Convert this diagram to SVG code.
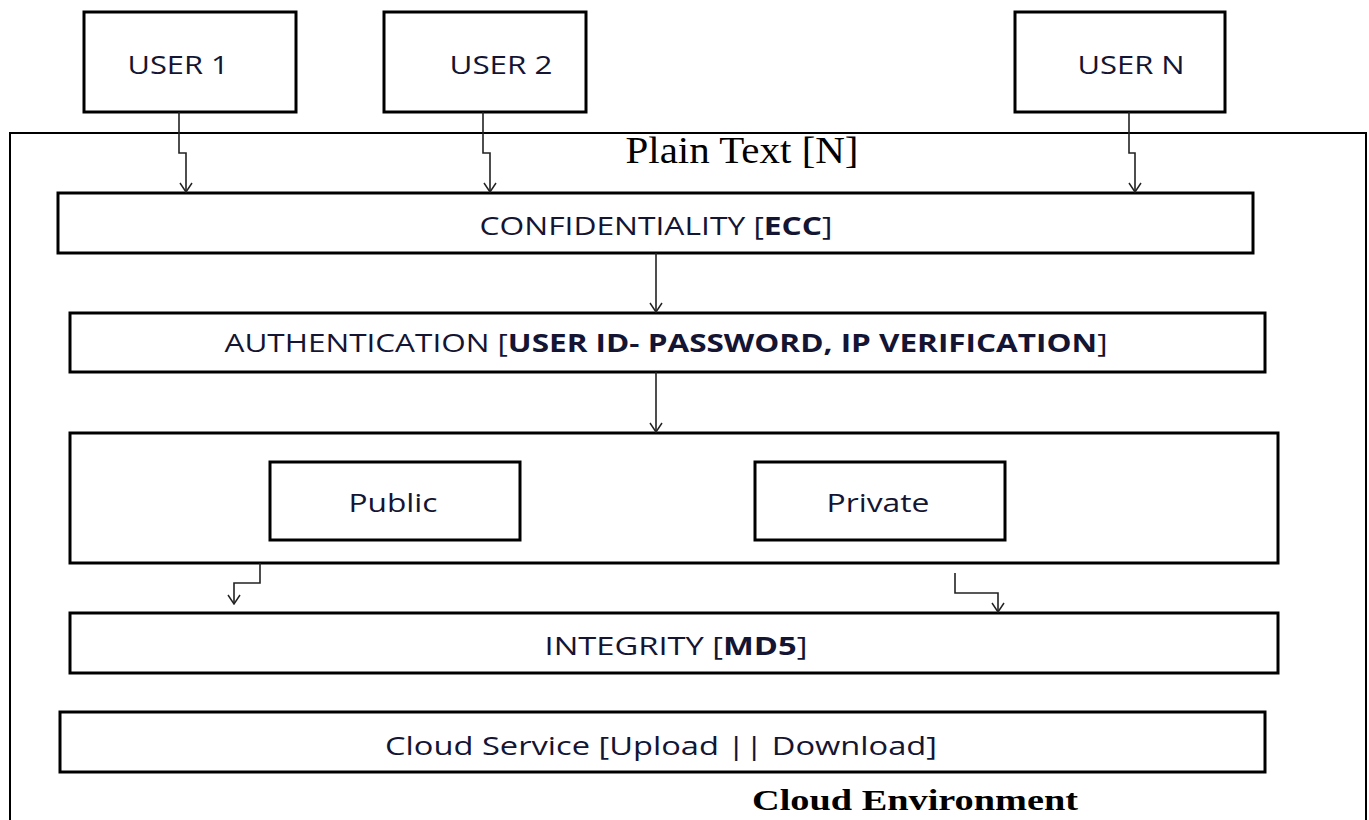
<svg xmlns="http://www.w3.org/2000/svg" width="1369" height="820" viewBox="0 0 1369 820">
  <defs>
    <marker id="head" viewBox="0 0 12 14" refX="11" refY="7" markerWidth="12" markerHeight="14" markerUnits="userSpaceOnUse" orient="auto">
      <path d="M2,1 L11,7 L2,13" fill="none" stroke="#222" stroke-width="1.5"/>
    </marker>
    <style>
      .box { fill: #fff; stroke: #000; stroke-width: 3; }
      .frame { fill: none; stroke: #000; stroke-width: 2; }
      .lbl { font-family: "Open Sans", "Liberation Sans", sans-serif; font-size: 25px; fill: #141433; text-anchor: middle; dominant-baseline: central; }
      .b { font-weight: bold; }
      .serif { font-family: "Liberation Serif", serif; fill: #000; text-anchor: middle; }
      .conn { fill: none; stroke: #222; stroke-width: 1.6; marker-end: url(#head); }
    </style>
  </defs>

  <rect width="1369" height="820" fill="#fff"/>

  <!-- cloud environment frame -->
  <g id="cloud-environment">
    <rect class="frame" x="10" y="133" width="1356" height="700"/>
    <text class="serif" x="742" y="163" font-size="37" textLength="233" lengthAdjust="spacingAndGlyphs">Plain Text [N]</text>
    <text class="serif" x="915" y="810" font-size="30" font-weight="bold" textLength="326" lengthAdjust="spacingAndGlyphs">Cloud Environment</text>
  </g>

  <!-- users -->
  <g id="user1">
    <rect class="box" x="84" y="12" width="212" height="100"/>
    <text class="lbl" x="178" y="64" textLength="101" lengthAdjust="spacingAndGlyphs">USER 1</text>
  </g>
  <g id="user2">
    <rect class="box" x="384" y="12" width="202" height="100"/>
    <text class="lbl" x="501" y="64" textLength="103" lengthAdjust="spacingAndGlyphs">USER 2</text>
  </g>
  <g id="userN">
    <rect class="box" x="1015" y="12" width="210" height="100"/>
    <text class="lbl" x="1131" y="64" textLength="107" lengthAdjust="spacingAndGlyphs">USER N</text>
  </g>

  <!-- processing stages -->
  <g id="confidentiality">
    <rect class="box" x="58" y="193" width="1195" height="60"/>
    <text class="lbl" x="656" y="225" textLength="353" lengthAdjust="spacingAndGlyphs">CONFIDENTIALITY [<tspan class="b">ECC</tspan>]</text>
  </g>
  <g id="authentication">
    <rect class="box" x="70" y="313" width="1195" height="59"/>
    <text class="lbl" x="666" y="342" textLength="883" lengthAdjust="spacingAndGlyphs">AUTHENTICATION [<tspan class="b">USER ID- PASSWORD, IP VERIFICATION</tspan>]</text>
  </g>
  <g id="access-type">
    <rect class="box" x="70" y="433" width="1208" height="130"/>
  </g>
  <g id="public">
    <rect class="box" x="270" y="462" width="250" height="78"/>
    <text class="lbl" x="393" y="502" textLength="89" lengthAdjust="spacingAndGlyphs">Public</text>
  </g>
  <g id="private">
    <rect class="box" x="755" y="462" width="250" height="78"/>
    <text class="lbl" x="878" y="502" textLength="103" lengthAdjust="spacingAndGlyphs">Private</text>
  </g>
  <g id="integrity">
    <rect class="box" x="70" y="613" width="1208" height="60"/>
    <text class="lbl" x="676" y="645" textLength="263" lengthAdjust="spacingAndGlyphs">INTEGRITY [<tspan class="b">MD5</tspan>]</text>
  </g>
  <g id="cloud-service">
    <rect class="box" x="60" y="712" width="1205" height="60"/>
    <text class="lbl" x="661" y="745" textLength="552" lengthAdjust="spacingAndGlyphs">Cloud Service [Upload  || Download]</text>
  </g>

  <!-- connectors -->
  <g id="connectors">
    <path class="conn" d="M179,112 V153 H186 V192"/>
    <path class="conn" d="M483,112 V153 H490 V192"/>
    <path class="conn" d="M1129,112 V153 H1135 V192"/>
    <path class="conn" d="M656,253 V312"/>
    <path class="conn" d="M656,372 V432"/>
    <path class="conn" d="M260,563 V583 H234 V604"/>
    <path class="conn" d="M955,573 V593 H998 V612"/>
  </g>
</svg>
